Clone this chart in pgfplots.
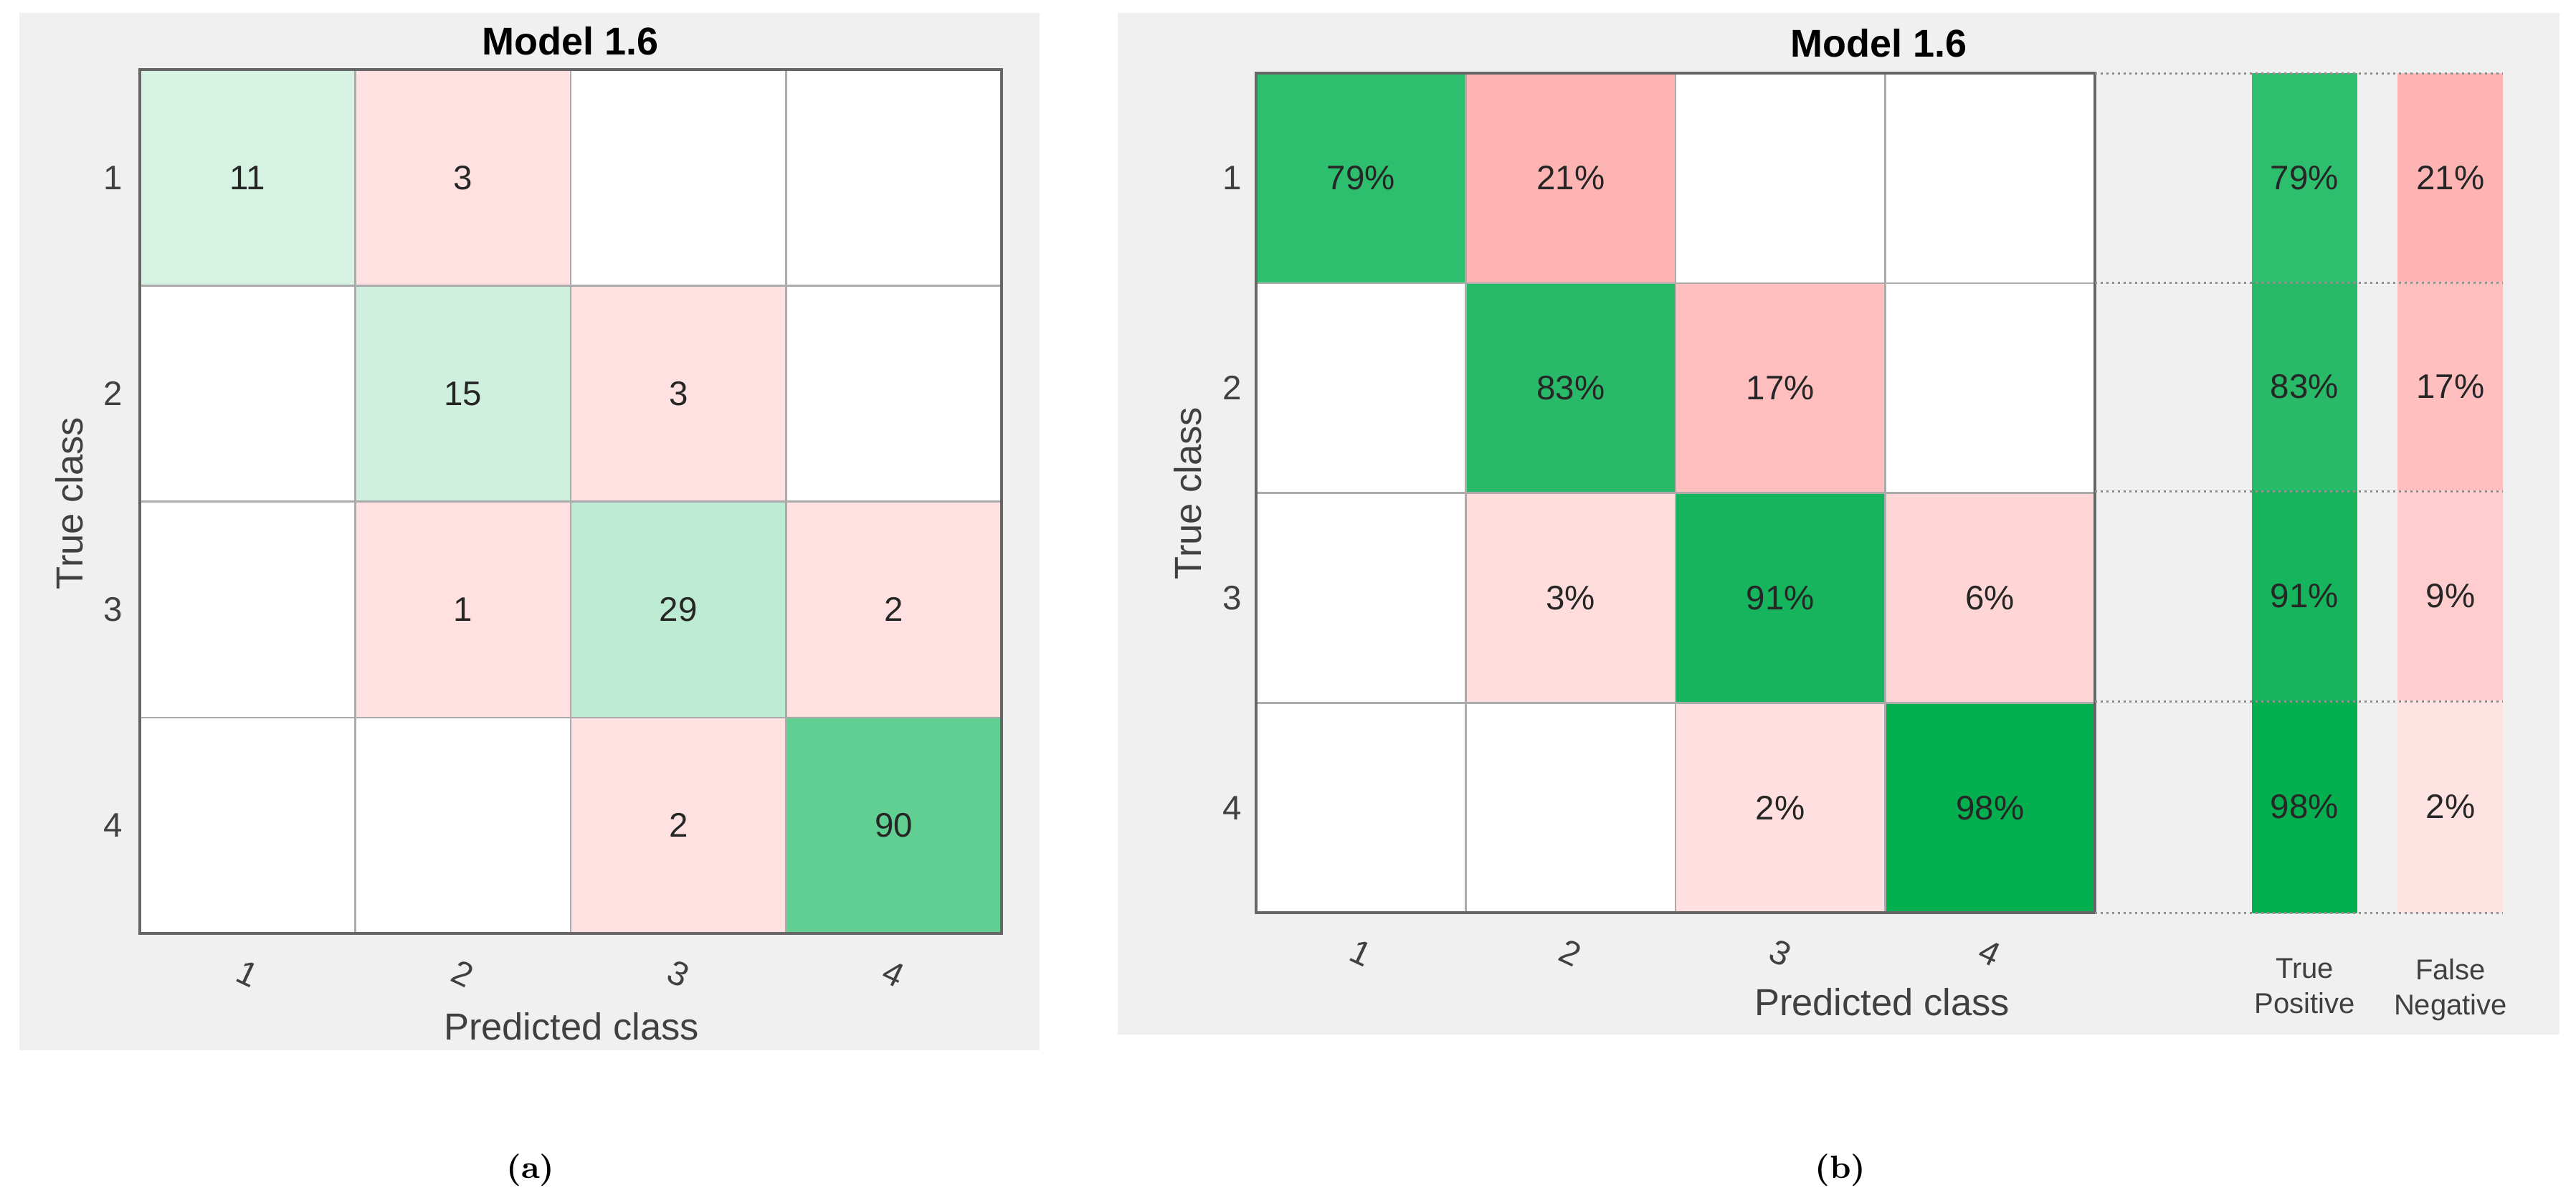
\documentclass[border=0pt]{standalone}
\usepackage{fontspec}
\usepackage{pgfplots}
\pgfplotsset{compat=1.18}
\usepackage{pgfplotstable}
\usepgfplotslibrary{patchplots}
\newfontfamily\arialish{Liberation Sans}
\definecolor{panelbg}{HTML}{F0F0F0}
\definecolor{gridc}{HTML}{ABABAB}
\definecolor{framec}{HTML}{666666}
\definecolor{labc}{HTML}{404040}
\definecolor{numc}{HTML}{262626}

% cell colours, panel (a)
\pgfplotstableread{
x y c
1 1 rgb255=213,242,227
2 1 rgb255=255,225,226
3 1 rgb255=255,255,255
4 1 rgb255=255,255,255
1 2 rgb255=255,255,255
2 2 rgb255=207,239,223
3 2 rgb255=255,225,226
4 2 rgb255=255,255,255
1 3 rgb255=255,255,255
2 3 rgb255=255,225,226
3 3 rgb255=189,234,211
4 3 rgb255=255,225,226
1 4 rgb255=255,255,255
2 4 rgb255=255,255,255
3 4 rgb255=255,225,226
4 4 rgb255=98,207,146
}\cellsA
% counts, panel (a)
\pgfplotstableread{
x y n
1 1 11
2 1 3
2 2 15
3 2 3
2 3 1
3 3 29
4 3 2
3 4 2
4 4 90
}\countsA

% cell colours, panel (b)
\pgfplotstableread{
x y c
1 1 rgb255=46,191,110
2 1 rgb255=255,180,180
3 1 rgb255=255,255,255
4 1 rgb255=255,255,255
1 2 rgb255=255,255,255
2 2 rgb255=40,186,104
3 2 rgb255=255,191,191
4 2 rgb255=255,255,255
1 3 rgb255=255,255,255
2 3 rgb255=255,221,221
3 3 rgb255=22,180,93
4 3 rgb255=255,214,214
1 4 rgb255=255,255,255
2 4 rgb255=255,255,255
3 4 rgb255=255,223,223
4 4 rgb255=4,175,80
}\cellsB
% row-normalised percentages, panel (b)
\pgfplotstableread{
x y p
1 1 79
2 1 21
2 2 83
3 2 17
2 3 3
3 3 91
4 3 6
3 4 2
4 4 98
}\pctB

% true positive / false negative columns (x, y in pixel units of the summary axis)
\pgfplotstableread{
x y c
3142 102 rgb255=46,191,110
3287 102 rgb255=46,191,110
3287 394 rgb255=46,191,110
3142 394 rgb255=46,191,110
3142 394 rgb255=40,186,104
3287 394 rgb255=40,186,104
3287 685 rgb255=40,186,104
3142 685 rgb255=40,186,104
3142 685 rgb255=22,180,93
3287 685 rgb255=22,180,93
3287 978 rgb255=22,180,93
3142 978 rgb255=22,180,93
3142 978 rgb255=4,175,80
3287 978 rgb255=4,175,80
3287 1273 rgb255=4,175,80
3142 1273 rgb255=4,175,80
3345 102 rgb255=255,180,180
3491 102 rgb255=255,180,180
3491 394 rgb255=255,180,180
3345 394 rgb255=255,180,180
3345 394 rgb255=255,191,191
3491 394 rgb255=255,191,191
3491 685 rgb255=255,191,191
3345 685 rgb255=255,191,191
3345 685 rgb255=255,205,205
3491 685 rgb255=255,205,205
3491 978 rgb255=255,205,205
3345 978 rgb255=255,205,205
3345 978 rgb255=255,226,226
3491 978 rgb255=255,226,226
3491 1273 rgb255=255,226,226
3345 1273 rgb255=255,226,226
}\summB
\pgfplotstableread{
x y p
3214.5 248 79
3214.5 539.5 83
3214.5 831.5 91
3214.5 1125.5 98
3418 248 21
3418 539.5 17
3418 831.5 9
3418 1125.5 2
}\summPct

\pgfplotsset{
  cm/.style={
    scale only axis, anchor=south west,
    xmin=0.5, xmax=4.5, ymin=0.5, ymax=4.5, y dir=reverse,
    xtick={1,2,3,4}, ytick={1,2,3,4},
    xticklabels={1,2,3,4}, yticklabels={1,2,3,4},
    minor xtick={1.5,2.5,3.5}, minor ytick={1.5,2.5,3.5},
    xminorgrids, yminorgrids,
    minor grid style={gridc, line width=0.5pt},
    major tick length=0pt, minor tick length=0pt,
    axis line style={framec, line width=0.7pt},
    axis on top,
    /pgf/number format/assume math mode=true,
    tick label style={font=\arialish\fontsize{9.5}{11}\selectfont, text=labc},
    xticklabel style={anchor=center, yshift=-11.2pt, rotate=-25},
  },
  cells/.style={matrix plot*, mesh/cols=4, mesh/color input=explicit,
    point meta=explicit symbolic},
  nums/.style={sharp plot, draw=none, mark=none, mesh/color input=colormap,
    mesh/check=false,
    nodes near coords, point meta=explicit symbolic,
    nodes near coords align=center,
    nodes near coords style={font=\arialish\fontsize{9.5}{11}\selectfont, text=numc}},
}

\begin{document}
\begin{tikzpicture}
\path (0pt,0pt) rectangle (718.6pt,-335.4pt);
\fill[panelbg] (5.4pt,-3.6pt) rectangle (290pt,-293pt);
\fill[panelbg] (311.8pt,-3.6pt) rectangle (714pt,-288.6pt);

% (a) counts
\begin{axis}[cm, at={(39pt,-260.4pt)}, width=240.4pt, height=241pt,
  yticklabel style={anchor=center, xshift=-7.4pt}]
  \addplot[cells] table[x=x, y=y, meta=c] {\cellsA};
  \addplot[nums] table[x=x, y=y, meta=n] {\countsA};
\end{axis}

% (b) percentages
\begin{axis}[cm, at={(350.4pt,-254.6pt)}, width=234pt, height=234.2pt,
  yticklabel style={anchor=center, xshift=-6.6pt}]
  \addplot[cells] table[x=x, y=y, meta=c] {\cellsB};
  \addplot[nums, nodes near coords={\pgfplotspointmeta\%}] table[x=x, y=y, meta=p] {\pctB};
\end{axis}

% (b) true positive / false negative
\begin{axis}[scale only axis, anchor=south west, at={(584.4pt,-254.6pt)},
  width=113.8pt, height=234.2pt,
  xmin=2922, xmax=3491, ymin=102, ymax=1273, y dir=reverse,
  axis line style={draw=none}, major tick length=0pt,
  ytick={102,394,685,978,1273}, yticklabels={}, ymajorgrids,
  major grid style={gridc!85!black, line width=0.6pt, dash pattern=on 0.6pt off 1pt},
  xtick={3214.5,3418}, xticklabels={{True\\Positive},{False\\Negative}},
  xticklabel style={align=center, anchor=north, yshift=-9.3pt,
    font=\arialish\fontsize{8}{9.8}\selectfont, text=labc},
  axis on top]
  \addplot[patch, patch type=rectangle, shader=flat corner, mesh/color input=explicit,
    point meta=explicit symbolic] table[x=x, y=y, meta=c] {\summB};
  \addplot[nums, nodes near coords={\pgfplotspointmeta\%}] table[x=x, y=y, meta=p] {\summPct};
\end{axis}

% titles, axis labels, captions
\begin{scope}[font=\arialish\fontsize{10.5}{12}\selectfont]
\node[font=\arialish\bfseries\fontsize{10.8}{12}\selectfont] at (159.2pt,-11.4pt) {Model 1.6};
\node[font=\arialish\bfseries\fontsize{10.8}{12}\selectfont] at (524.2pt,-12pt) {Model 1.6};
\node[text=labc] at (159.4pt,-286.4pt) {Predicted class};
\node[text=labc] at (525pt,-279.6pt) {Predicted class};
\node[text=labc, rotate=90] at (19.4pt,-140.4pt) {True class};
\node[text=labc, rotate=90] at (331.4pt,-137.6pt) {True class};
\end{scope}
\node[font=\bfseries\fontsize{9}{11}\selectfont] at (148pt,-326.4pt) {(a)};
\node[font=\bfseries\fontsize{9}{11}\selectfont] at (513.4pt,-326.4pt) {(b)};
\end{tikzpicture}
\end{document}
